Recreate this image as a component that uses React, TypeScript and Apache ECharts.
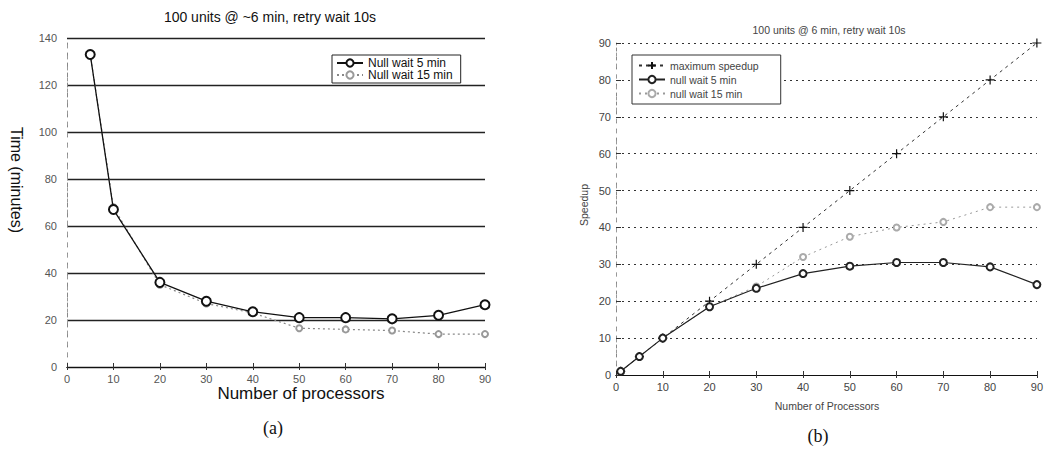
import React, { useEffect, useRef } from "react";
import * as echarts from "echarts";

const leftX = [5, 10, 20, 30, 40, 50, 60, 70, 80, 90];
const leftWait5 = [133, 67, 36, 28, 23.5, 21, 21, 20.5, 22, 26.5];
const leftWait15 = [133, 68, 35, 27, 23, 16.5, 16, 15.5, 14, 14];

const rightX = [1, 5, 10, 20, 30, 40, 50, 60, 70, 80, 90];
const maxSpeedup = [1, 5, 10, 20, 30, 40, 50, 60, 70, 80, 90];
const rightWait5 = [1, 5, 10, 18.5, 23.5, 27.5, 29.5, 30.5, 30.5, 29.3, 24.5];
const rightWait15 = [1, 5, 10, 18.5, 24, 32, 37.5, 40, 41.5, 45.5, 45.5];

const leftNames = ["Null wait 5 min", "Null wait 15 min"];
const rightNames = ["maximum speedup", "null wait 5 min", "null wait 15 min"];

const zip = (xs: number[], ys: number[]) => xs.map((x, i) => [x, ys[i]]);
const PLUS = "path://M0,5L10,5M5,0L5,10";

export default function App() {
  const ref = useRef<HTMLDivElement>(null);
  useEffect(() => {
    document.body.style.margin = "0";
    const chart = echarts.init(ref.current!, undefined, { renderer: "svg" });
    const font = "Arial, 'Liberation Sans', sans-serif";
    const xBase = (gi: number, color: string, fs: number) => ({
      type: "value",
      gridIndex: gi,
      min: 0,
      max: 90,
      interval: 10,
      axisLine: { show: true, lineStyle: { color: "#111", width: 1.2 } },
      axisTick: { show: true, inside: true, length: 4, lineStyle: { color: "#333" } },
      axisLabel: { color, fontSize: fs, fontFamily: font, margin: 6 },
      splitLine: { show: false },
    });
    chart.setOption({
      animation: false,
      backgroundColor: "#fff",
      grid: [
        { left: 67, right: 561, top: 38, bottom: 85 },
        { left: 616, right: 3, top: 43, bottom: 77 },
      ],
      xAxis: [
        xBase(0, "#555", 11),
        {
          type: "value", gridIndex: 0, position: "top", min: 0, max: 90, interval: 10,
          axisLine: { show: true, lineStyle: { color: "#111", width: 1.2 } },
          axisTick: { show: true, inside: true, length: 3, lineStyle: { color: "#333" } },
          axisLabel: { show: false }, splitLine: { show: false },
        },
        xBase(1, "#444", 11),
        {
          type: "value", gridIndex: 1, position: "top", min: 0, max: 90, interval: 10,
          axisLine: { show: true, lineStyle: { color: "#111", width: 1.2 } },
          axisTick: { show: true, inside: true, length: 3, lineStyle: { color: "#333" } },
          axisLabel: { show: false }, splitLine: { show: false },
        },
      ],
      yAxis: [
        {
          type: "value", gridIndex: 0, min: 0, max: 140, interval: 20,
          axisLine: { show: true, lineStyle: { color: "#888", type: [4, 6] } },
          axisTick: { show: false },
          axisLabel: { color: "#555", fontSize: 11, fontFamily: font, margin: 10 },
          splitLine: { show: true, lineStyle: { color: "#222", width: 1.3 } },
        },
        {
          type: "value", gridIndex: 0, position: "right", min: 0, max: 140, interval: 20,
          axisLine: { show: true, lineStyle: { color: "#999", type: [3, 8] } },
          axisTick: { show: false }, axisLabel: { show: false }, splitLine: { show: false },
        },
        {
          type: "value", gridIndex: 1, min: 0, max: 90, interval: 10,
          axisLine: { show: true, lineStyle: { color: "#888", type: [3, 6] } },
          axisTick: { show: true, inside: true, length: 5, lineStyle: { color: "#333" } },
          axisLabel: { color: "#444", fontSize: 11, fontFamily: font, margin: 5 },
          splitLine: { show: true, lineStyle: { color: "#333", width: 1, type: [2, 4] } },
        },
        {
          type: "value", gridIndex: 1, position: "right", min: 0, max: 90, interval: 10,
          axisLine: { show: true, lineStyle: { color: "#999", type: [3, 8] } },
          axisTick: { show: false }, axisLabel: { show: false }, splitLine: { show: false },
        },
      ],
      legend: [
        {
          data: leftNames, orient: "vertical", left: 332, top: 55,
          padding: [2, 8, 2, 4], itemGap: 0, itemWidth: 26, itemHeight: 9,
          borderColor: "#222", borderWidth: 1, backgroundColor: "#fff",
          textStyle: { fontSize: 12, fontFamily: font, color: "#111" },
        },
        {
          data: rightNames, orient: "vertical", left: 632, top: 55,
          padding: [5, 22, 5, 6], itemGap: 3, itemWidth: 26, itemHeight: 9,
          borderColor: "#333", borderWidth: 1, backgroundColor: "#fff",
          textStyle: { fontSize: 10.5, fontFamily: font, color: "#444" },
        },
      ],
      series: [
        {
          name: leftNames[0], type: "line", xAxisIndex: 0, yAxisIndex: 0,
          data: zip(leftX, leftWait5), symbol: "emptyCircle", symbolSize: 9,
          itemStyle: { color: "#111", borderWidth: 1.2 },
          lineStyle: { color: "#111", width: 1.3 }, z: 5,
        },
        {
          name: leftNames[1], type: "line", xAxisIndex: 0, yAxisIndex: 0,
          data: zip(leftX, leftWait15), symbol: "emptyCircle", symbolSize: 6,
          itemStyle: { color: "#999", borderWidth: 1 },
          lineStyle: { color: "#888", width: 1.2, type: [2, 3] }, z: 4,
        },
        {
          name: rightNames[0], type: "line", xAxisIndex: 2, yAxisIndex: 2,
          data: zip(rightX, maxSpeedup), symbol: PLUS, symbolSize: 9,
          itemStyle: { color: "#111", borderColor: "#111", borderWidth: 1.2 },
          lineStyle: { color: "#333", width: 1, type: [3, 4] }, z: 5,
        },
        {
          name: rightNames[1], type: "line", xAxisIndex: 2, yAxisIndex: 2,
          data: zip(rightX, rightWait5), symbol: "emptyCircle", symbolSize: 7,
          itemStyle: { color: "#222", borderWidth: 1 },
          lineStyle: { color: "#222", width: 1.2 }, z: 5,
        },
        {
          name: rightNames[2], type: "line", xAxisIndex: 2, yAxisIndex: 2,
          data: zip(rightX, rightWait15), symbol: "emptyCircle", symbolSize: 6,
          itemStyle: { color: "#aaa", borderWidth: 1 },
          lineStyle: { color: "#999", width: 1, type: [2, 4] }, z: 4,
        },
      ],
      graphic: [
        { type: "text", x: 270, y: 17, style: { text: "100 units @ ~6 min, retry wait 10s", font: `14px ${font}`, fill: "#111", align: "center", verticalAlign: "middle" } },
        { type: "text", x: 16, y: 180, rotation: -Math.PI / 2, style: { text: "Time (minutes)", font: `16px ${font}`, fill: "#111", align: "center", verticalAlign: "middle" } },
        { type: "text", x: 301, y: 393, style: { text: "Number of processors", font: `17px ${font}`, fill: "#111", align: "center", verticalAlign: "middle" } },
        { type: "text", x: 273, y: 428, style: { text: "(a)", font: `18px 'Liberation Serif', 'DejaVu Serif', serif`, fill: "#111", align: "center", verticalAlign: "middle" } },
        { type: "text", x: 829, y: 30, style: { text: "100 units @ 6 min, retry wait 10s", font: `10.5px ${font}`, fill: "#444", align: "center", verticalAlign: "middle" } },
        { type: "text", x: 584, y: 205, rotation: Math.PI / 2, style: { text: "Speedup", font: `10.5px ${font}`, fill: "#444", align: "center", verticalAlign: "middle" } },
        { type: "text", x: 827, y: 406, style: { text: "Number of Processors", font: `10.5px ${font}`, fill: "#444", align: "center", verticalAlign: "middle" } },
        { type: "text", x: 818, y: 436, style: { text: "(b)", font: `18px 'Liberation Serif', 'DejaVu Serif', serif`, fill: "#111", align: "center", verticalAlign: "middle" } },
      ],
    });
    return () => chart.dispose();
  }, []);
  return <div ref={ref} style={{ width: 1046, height: 452 }} />;
}
